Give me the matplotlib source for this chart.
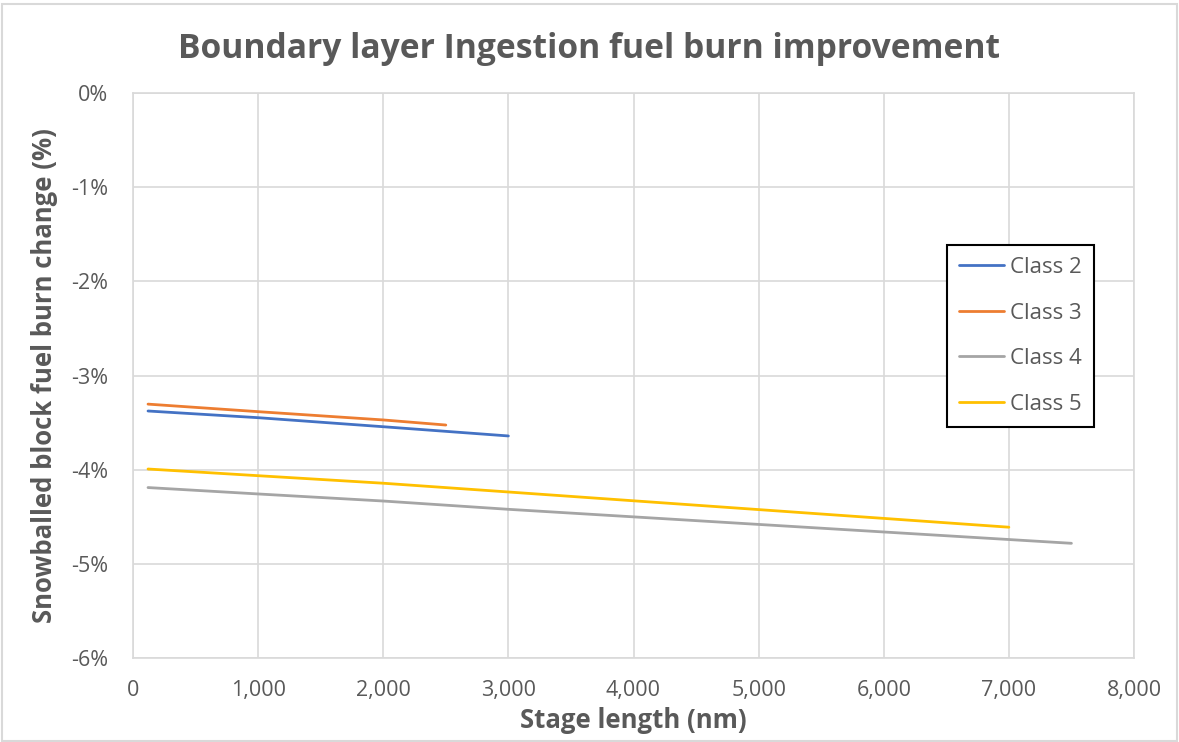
import matplotlib
matplotlib.use("Agg")
import matplotlib.pyplot as plt
from matplotlib.patches import Rectangle

# Data (stage length nm, fuel burn change %)
class2_x = [120, 1000, 2000, 3000]
class2_y = [-3.377, -3.448, -3.544, -3.642]
class3_x = [120, 1000, 2000, 2500]
class3_y = [-3.304, -3.384, -3.472, -3.526]
class4_x = [120, 1000, 2000, 3000, 7500]
class4_y = [-4.190, -4.258, -4.333, -4.421, -4.782]
class5_x = [120, 1000, 2000, 3000, 7000]
class5_y = [-3.993, -4.064, -4.144, -4.237, -4.611]

x_ticks = [0, 1000, 2000, 3000, 4000, 5000, 6000, 7000, 8000]
x_tick_labels = ["0", "1,000", "2,000", "3,000", "4,000", "5,000", "6,000", "7,000", "8,000"]
y_ticks = [0, -1, -2, -3, -4, -5, -6]
y_tick_labels = ["0%", "-1%", "-2%", "-3%", "-4%", "-5%", "-6%"]

TXT = "#595959"
GRID = "#d9d9d9"
FONT = "Open Sans"

fig = plt.figure(figsize=(11.79, 7.42), dpi=100)
ax = fig.add_axes([133/1179, 1-658/742, (1134-133)/1179, (658-93)/742])

ax.plot(class2_x, class2_y, color="#4472C4", lw=2.0, label="Class 2", solid_capstyle="round")
ax.plot(class3_x, class3_y, color="#ED7D31", lw=2.0, label="Class 3", solid_capstyle="round")
ax.plot(class4_x, class4_y, color="#A5A5A5", lw=2.0, label="Class 4", solid_capstyle="round")
ax.plot(class5_x, class5_y, color="#FFC000", lw=2.0, label="Class 5", solid_capstyle="round")

ax.set_xlim(0, 8000)
ax.set_ylim(-6, 0)
ax.set_xticks(x_ticks)
ax.set_xticklabels(x_tick_labels, fontsize=15.5, color=TXT, family=FONT)
ax.set_yticks(y_ticks)
ax.set_yticklabels(y_tick_labels, fontsize=15.5, color=TXT, family=FONT)
ax.tick_params(axis="x", length=0, pad=16)
ax.tick_params(axis="y", length=0, pad=18)
ax.grid(True, color=GRID, lw=1.2)
ax.set_axisbelow(True)
for s in ax.spines.values():
    s.set_color(GRID)
    s.set_linewidth(1.2)

ax.set_xlabel("Stage length (nm)", fontsize=18.5, color=TXT, fontweight="bold", family=FONT)
ax.set_ylabel("Snowballed block fuel burn change (%)", fontsize=18.5, color=TXT, fontweight="bold", family=FONT)
ax.xaxis.set_label_coords(0.5, (658-707)/565)
ax.yaxis.set_label_coords((58-133)/1001, 0.5)

fig.text(0.5, 1-49/742, "Boundary layer Ingestion fuel burn improvement", ha="center", va="center",
         fontsize=24.2, color=TXT, fontweight="bold", family=FONT)

leg = ax.legend(loc="upper left", bbox_to_anchor=((947-133)/1001, (658-245)/565), borderaxespad=0,
                fancybox=False, framealpha=1, edgecolor="black", handlelength=2.0,
                labelspacing=1.1, borderpad=0.55, handletextpad=0.3, prop={"family": FONT, "size": 16})
leg.get_frame().set_linewidth(1.5)
for t in leg.get_texts():
    t.set_color(TXT)

fig.patches.append(Rectangle((0.002, 0.002), 0.996, 0.993, transform=fig.transFigure,
                             fill=False, edgecolor=GRID, lw=1.5))

fig.savefig("out.png", dpi=100)
